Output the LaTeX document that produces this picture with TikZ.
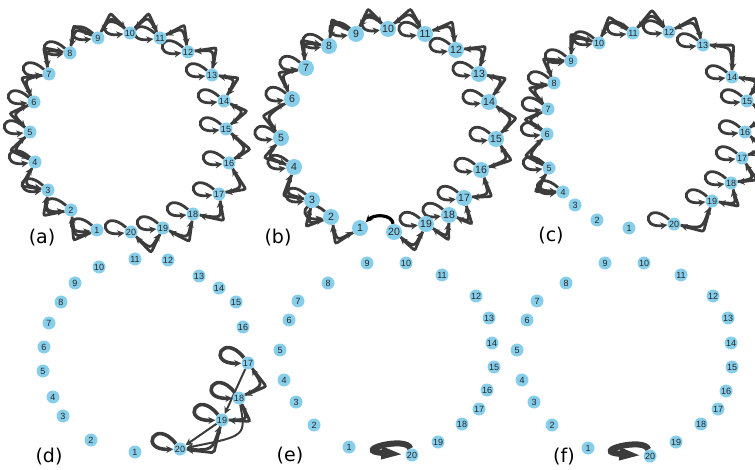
\documentclass[tikz,border=0pt]{standalone}
\usepackage{fontspec}
\setmainfont{Liberation Sans}
\newfontfamily\panelfont{DejaVu Sans}
\usetikzlibrary{arrows.meta, calc, backgrounds}

\definecolor{vertexblue}{HTML}{87CEEB}
\definecolor{edgegrey}{HTML}{3C3C3C}

% edges between neighbours on the ring, bent away from the centre
\newcommand{\ringedges}[4]{%
  \pgfmathtruncatemacro{\ringend}{#3-1}
  \foreach \i in {#2,...,\ringend}{
    \pgfmathtruncatemacro{\j}{\i+1}
    \coordinate (mid) at ($(#1\i)!.5!(#1\j)$);
    \draw[edge, rounded corners=2pt] (#1\i) -- ($(#4)!1.23!(mid)$) -- (#1\j);
    \draw[edge] (#1\j) .. controls ($(#4)!1.2!(mid)$) .. (#1\i);
  }
}
% self loops, all turned to the left
\newcommand{\selfloops}[3]{%
  \foreach \i in {#2,...,#3}{
    \draw[edge] (#1\i) .. controls +(138:36pt) and +(188:36pt) .. (#1\i);
  }
}

\begin{document}
\begin{tikzpicture}[x=1pt, y=-1pt,
    vertex/.style={circle, fill=vertexblue, inner sep=0pt, minimum size=13pt, text=black!85, font=\fontsize{9}{9}\selectfont},
    bigvertex/.style={vertex, minimum size=16pt, font=\fontsize{10.5}{10.5}\selectfont},
    edge/.style={draw=edgegrey, line width=2.8pt, -{Stealth[length=7pt, width=7pt]}},
    panellabel/.style={font=\panelfont\fontsize{19}{19}\selectfont, inner sep=0pt}
  ]
  \useasboundingbox (0,0) rectangle (755,470);

  % panel centres
  \coordinate (ca) at (129,132);
  \coordinate (cb) at (389,130);
  \coordinate (cc) at (647,130);
  \coordinate (cd) at (145,355);

  % (a)
  \foreach \n/\x/\y in {1/97/230, 2/71/210, 3/48/190, 4/35/162, 5/30/132, 6/34/102, 7/49/74, 8/70/53, 9/98/38, 10/130/33,
      11/160/38, 12/188/52, 13/212/75, 14/224/101, 15/226/129, 16/229/163, 17/219/194, 18/193/214, 19/163/228, 20/131/232}
    \node[vertex] (a\n) at (\x,\y) {\n};
  % (b)
  \foreach \n/\x/\y in {1/360/228, 2/331/217, 3/312/200, 4/294/167, 5/281/138, 6/292/99, 7/306/68, 8/329/46, 9/356/34, 10/388/29,
      11/425/34, 12/456/50, 13/479/74, 14/489/102, 15/496/139, 16/481/170, 17/464/198, 18/449/215, 19/426/224, 20/394/232}
    \node[bigvertex] (b\n) at (\x,\y) {\n};
  % (c)
  \foreach \n/\x/\y in {1/629/228, 2/597/220, 3/575/205, 4/563/192, 5/549/168, 6/547/134, 7/548/109, 8/554/83, 9/571/61, 10/599/43,
      11/633/33, 12/669/32, 13/703/45, 14/732/77, 15/747/101, 16/745/132, 17/742/158, 18/731/183, 19/712/201, 20/674/224}
    \node[vertex] (c\n) at (\x,\y) {\n};
  % (d)
  \foreach \n/\x/\y in {1/135/452, 2/91/440, 3/63/416, 4/53/397, 5/43/371, 6/44/347, 7/49/323, 8/61/302, 9/75/283, 10/99/267,
      11/135/259, 12/168/260, 13/199/276, 14/219/288, 15/236/302, 16/243/327, 17/248/363, 18/239/398, 19/222/420, 20/180/449}
    \node[vertex] (d\n) at (\x,\y) {\n};
  % (e)
  \foreach \n/\x/\y in {1/349/447, 2/314/425, 3/296/402, 4/284/380, 5/280/350, 6/289/320, 7/298/301, 8/328/283, 9/367/263, 10/406/263,
      11/442/275, 12/476/296, 13/489/318, 14/492/343, 15/494/367, 16/487/390, 17/479/409, 18/462/424, 19/438/442, 20/412/455}
    \node[vertex] (e\n) at (\x,\y) {\n};
  % (f)
  \foreach \n/\x/\y in {1/588/448, 2/552/425, 3/534/402, 4/522/380, 5/517/350, 6/527/320, 7/537/301, 8/566/283, 9/605/263, 10/644/263,
      11/681/275, 12/713/296, 13/728/318, 14/731/343, 15/732/367, 16/726/391, 17/718/409, 18/701/424, 19/676/442, 20/650/456}
    \node[vertex] (f\n) at (\x,\y) {\n};

  \begin{scope}[on background layer]
    \ringedges{a}{1}{20}{ca}
    \selfloops{a}{1}{20}
    \ringedges{b}{1}{20}{cb}
    \selfloops{b}{2}{19}
    \draw[edge, draw=black, line width=3.2pt] (b20) .. controls (392,214) and (374,214) .. (b1);
    \ringedges{c}{4}{20}{cc}
    \selfloops{c}{4}{20}
    \ringedges{d}{17}{20}{cd}
    \draw[edge, line width=2pt] (d17) -- (d19);
    \draw[edge, line width=2pt] (d19) -- (d20);
    \draw[edge, line width=2pt] (d18) .. controls (246,436) .. (d20);
    \foreach \i in {17,...,20}
      \draw[edge, line width=3.6pt] (d\i) .. controls +(128:40pt) and +(182:42pt) .. (d\i);
    \draw[edge, line width=6pt, -{Triangle[length=24pt, width=11pt]}] (e20) .. controls +(105:20pt) and +(176:62pt) .. (e20);
    \draw[edge, line width=6pt, -{Triangle[length=24pt, width=11pt]}] (f20) .. controls +(105:20pt) and +(176:62pt) .. (f20);
  \end{scope}

  % panel letters
  \node[panellabel] (la) at (42,238) {(a)};
  \node[panellabel] (lb) at (278,238) {(b)};
  \node[panellabel] (lc) at (551,236) {(c)};
  \node[panellabel] (ld) at (49,457) {(d)};
  \node[panellabel] (le) at (290,456) {(e)};
  \node[panellabel] (lf) at (564,457) {(f)};
\end{tikzpicture}
\end{document}
